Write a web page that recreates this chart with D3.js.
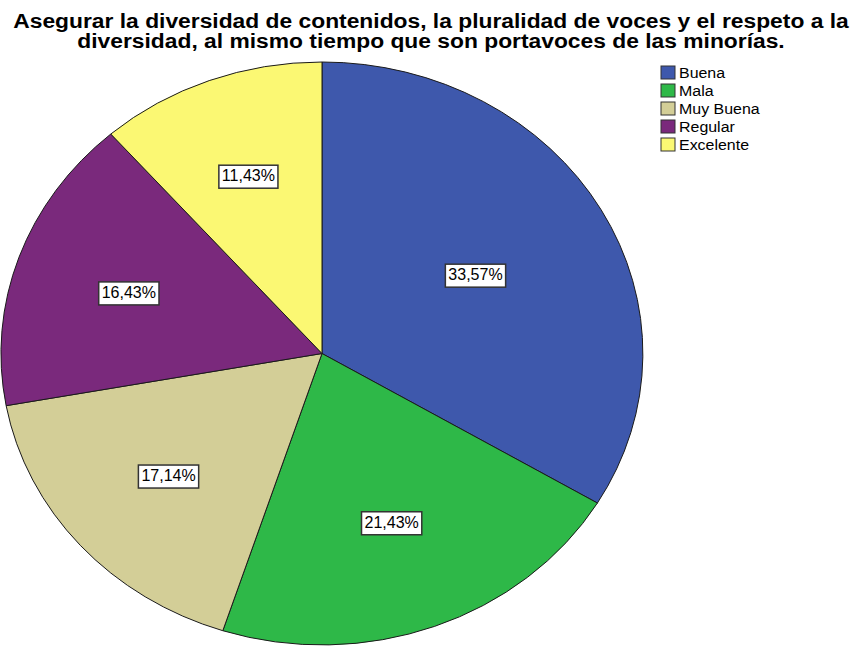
<!DOCTYPE html>
<html>
<head>
<meta charset="utf-8">
<script src="https://cdn.jsdelivr.net/npm/d3@7"></script>
<style>
  body { margin: 0; background: #fff; }
  svg { display: block; font-family: "Liberation Sans", Arial, sans-serif; }
  .Title { font-weight: bold; font-size: 19.5px; fill: #000; }
  .Slice { stroke: #1a1a1a; stroke-width: 1; vector-effect: non-scaling-stroke; }
  .Label__box { fill: #fff; stroke: #333; stroke-width: 1.5; }
  .Label__text { font-size: 16px; fill: #000; }
  .Legend__square { stroke: #333; stroke-width: 1; }
  .Legend__text { font-size: 14.5px; fill: #000; }
</style>
</head>
<body>
<svg id="chart" width="857" height="646"></svg>
<script>
const TITLE_LINES = [
  "Asegurar la diversidad de contenidos, la pluralidad de voces y el respeto a la",
  "diversidad, al mismo tiempo que son portavoces de las minorías."
];
const categories = ["Buena", "Mala", "Muy Buena", "Regular", "Excelente"];
const percents = [33.57, 21.43, 17.14, 16.43, 11.43];
const colors = ["#3e58ac", "#2eb848", "#d3ce97", "#7a297c", "#fbf873"];

const width = 857;
const height = 646;
// SPSS stretches the pie into an ellipse.
const cx = 322, cy = 353.5, rx = 321, ry = 291.5;
// The original output is a bit wider than the font's natural width.
const textStretch = 1.17;

const svg = d3.select("#chart");

// Title.

const gTitle = svg.append("g");
TITLE_LINES.forEach((line, i) => {
  gTitle.append("text")
    .attr("class", "Title")
    .attr("transform", `translate(431, ${28 + i * 20}) scale(${textStretch}, 1)`)
    .attr("text-anchor", "middle")
    .text(line);
});

// Pie slices, drawn on a unit circle then scaled to the ellipse.

const data = categories.map((c, i) => ({category: c, value: percents[i], color: colors[i]}));
const pie = d3.pie()
  .sort(null)
  .value((d) => d.value)
  .startAngle(0)
  .endAngle(2 * Math.PI);
const arcs = pie(data);
const arcGenerator = d3.arc().innerRadius(0).outerRadius(1);

svg.append("g")
  .attr("transform", `translate(${cx}, ${cy}) scale(${rx}, ${ry})`)
  .selectAll("path")
  .data(arcs)
  .join("path")
  .attr("class", "Slice")
  .attr("fill", (d) => d.data.color)
  .attr("d", arcGenerator);

// Percentage labels near the centroid of each sector.

const fmt = (v) => v.toFixed(2).replace(".", ",") + "%";
const gLabels = svg.append("g");
arcs.forEach((d) => {
  const theta = d.endAngle - d.startAngle;
  const mid = (d.startAngle + d.endAngle) / 2;
  const frac = 4 * Math.sin(theta / 2) / (3 * theta);
  const x = cx + rx * frac * Math.sin(mid);
  const y = cy - ry * frac * Math.cos(mid);
  const g = gLabels.append("g").attr("transform", `translate(${x}, ${y})`);
  const box = g.append("rect").attr("class", "Label__box");
  const t = g.append("text")
    .attr("class", "Label__text")
    .attr("text-anchor", "middle")
    .attr("dy", "0.36em")
    .text(fmt(d.data.value));
  const bb = t.node().getBBox();
  const padX = 3, padY = 3;
  box.attr("x", bb.x - padX)
    .attr("y", bb.y - padY + 1)
    .attr("width", bb.width + 2 * padX)
    .attr("height", bb.height + 2 * padY);
});

// Legend.

const legendX = 661, legendY = 66, rowH = 18;
const gLegend = svg.append("g").attr("transform", `translate(${legendX}, ${legendY})`);
data.forEach((d, i) => {
  gLegend.append("rect")
    .attr("class", "Legend__square")
    .attr("x", 0)
    .attr("y", i * rowH)
    .attr("width", 14)
    .attr("height", 13)
    .attr("fill", d.color);
  gLegend.append("text")
    .attr("class", "Legend__text")
    .attr("transform", `translate(18, ${i * rowH + 12}) scale(1.1, 1)`)
    .text(d.category);
});
</script>
</body>
</html>
